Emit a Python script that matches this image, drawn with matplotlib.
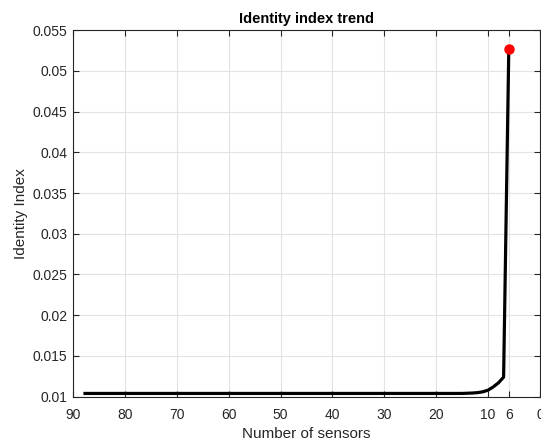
import numpy as np
import matplotlib.pyplot as plt
from matplotlib.ticker import FuncFormatter

plt.rcParams['font.family'] = ['Liberation Sans', 'DejaVu Sans']

# identity index versus number of sensors kept
sensors = [88, 60, 40, 20, 15, 13, 12, 11, 10, 9, 8, 7, 6]
identity = [0.0104, 0.0104, 0.0104, 0.0104, 0.0104, 0.01045, 0.0105,
            0.0106, 0.0108, 0.0112, 0.0117, 0.0124, 0.0527]
best_n = 6
best_val = 0.0527

xticks = [90, 80, 70, 60, 50, 40, 30, 20, 10, 6, 0]
yticks = [0.01, 0.015, 0.02, 0.025, 0.03, 0.035, 0.04, 0.045, 0.05, 0.055]

fig = plt.figure(figsize=(5.41, 4.42), dpi=100)
ax = fig.add_axes([0.135, 0.1025, 0.863, 0.8295])

ax.plot(sensors, identity, color='black', lw=2.3, solid_capstyle='butt')
ax.plot([best_n], [best_val], 'o', color='red', ms=6.5, mec='red')

ax.set_xlim(90, 0)
ax.set_ylim(0.01, 0.055)
ax.set_xticks(xticks)
ax.set_yticks(yticks)
ax.yaxis.set_major_formatter(FuncFormatter(lambda v, p: ('%g' % round(v, 4))))

ax.grid(True, color='#e3e3e3', lw=0.8)
ax.set_axisbelow(True)
ax.tick_params(direction='in', length=4, width=0.8, labelsize=10,
               colors='#262626', top=True, right=True, pad=4)
ax.tick_params(axis='x', pad=8)
for s in ax.spines.values():
    s.set_color('#262626')
    s.set_linewidth(0.8)

ax.set_title('Identity index trend', fontsize=10.5, fontweight='bold', pad=5)
ax.set_xlabel('Number of sensors', fontsize=11, color='#262626', labelpad=4)
ax.set_ylabel('Identity Index', fontsize=11, color='#262626', labelpad=3)

fig.savefig('out.png', dpi=100)
